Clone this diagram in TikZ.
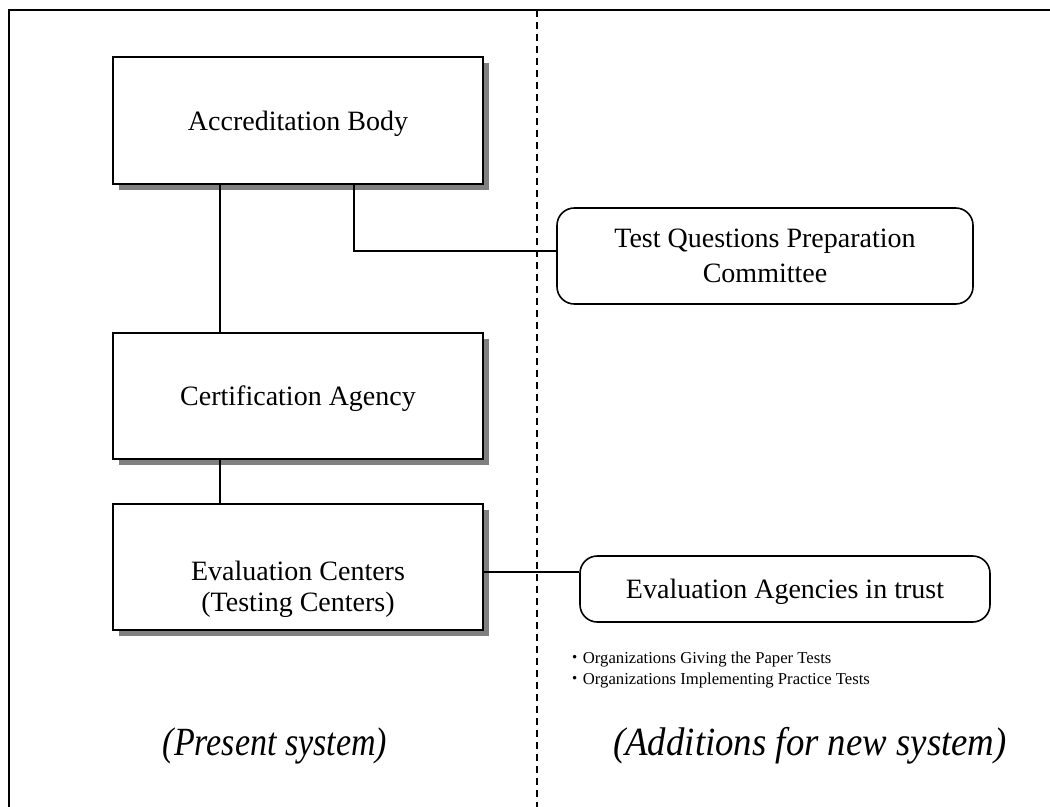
\documentclass[tikz,border=0pt]{standalone}
\usepackage{fontspec}
\setmainfont{Liberation Serif}
\newfontfamily\cjk{Noto Sans CJK JP}
\usetikzlibrary{calc}

\tikzset{
  boxtext/.style={font=\fontsize{21pt}{24pt}\selectfont, align=center, inner sep=0pt},
  plainbox/.style={boxtext, draw=black, line width=1.5pt, fill=white},
  roundbox/.style={boxtext, draw=black, line width=1.2pt, rounded corners=13pt, fill=white},
  shadow/.style={fill=black!50, draw=none},
  link/.style={draw=black, line width=1.2pt},
  divider/.style={draw=black, line width=1.5pt, dash pattern=on 5.25pt off 3.75pt},
  frame/.style={draw=black, line width=1.8pt},
  caption/.style={font=\fontsize{30pt}{34pt}\selectfont\itshape, inner sep=0pt},
  note/.style={font=\fontsize{12.5pt}{15pt}\selectfont, anchor=west, inner sep=0pt}
}

\begin{document}
\begin{tikzpicture}[x=0.75pt, y=-0.75pt]
  \useasboundingbox (0,0) rectangle (1050,807);

  % outer frame (top and left edges) and the dashed divider
  \draw[frame] (9,807) -- (9,10) -- (1050,10);
  \coordinate (dtop) at (537,10);
  \coordinate (dbot) at (537,807);
  \draw[divider] (dtop) -- (dbot);

  % drop shadows of the square boxes
  \fill[shadow] (119,63) rectangle (489,190);
  \fill[shadow] (119,339) rectangle (489,465);
  \fill[shadow] (119,510) rectangle (489,636);

  % present system
  \node[plainbox, text depth=0pt, minimum width=277.5pt, minimum height=95.25pt] (AB) at (298,120.5) {Accreditation Body};
  \node[plainbox, text depth=0pt, minimum width=277.5pt, minimum height=94.5pt] (CA) at (298,396) {Certification Agency};
  \node[plainbox, minimum width=277.5pt, minimum height=94.5pt] (EC) at (298,567) {};
  \node[boxtext, font=\fontsize{21pt}{23.25pt}\selectfont] (ECt) at (298,589) {Evaluation Centers\\(Testing Centers)};

  % additions
  \node[roundbox, font=\fontsize{21pt}{26pt}\selectfont, minimum width=312pt, minimum height=72pt] (TQ) at (765,256) {Test Questions Preparation\\Committee};
  \node[roundbox, text depth=0pt, minimum width=307.5pt, minimum height=49.5pt] (EA) at (785,589) {Evaluation Agencies in trust};

  % connectors
  \coordinate (vx) at (220,0);
  \coordinate (tk) at (354,251);
  \coordinate (ey) at (0,572);
  \draw[link] (AB.south -| vx) -- (CA.north -| vx);
  \draw[link] (CA.south -| vx) -- (EC.north -| vx);
  \draw[link] (AB.south -| tk) |- (TQ.west |- tk);
  \draw[link] (EC.east |- ey) -- (EA.west |- ey);

  % notes under the trust agencies
  \node[note] (n1) at (566,660) {{\cjk ・}Organizations Giving the Paper Tests};
  \node[note] (n2) at (566,681) {{\cjk ・}Organizations Implementing Practice Tests};

  % column captions
  \node[caption] (cl) at (275,746) {\scalebox{0.85}[1]{(Present system)}};
  \node[caption] (cr) at (810,746) {\scalebox{0.92}[1]{(Additions for new system)}};
\end{tikzpicture}
\end{document}
